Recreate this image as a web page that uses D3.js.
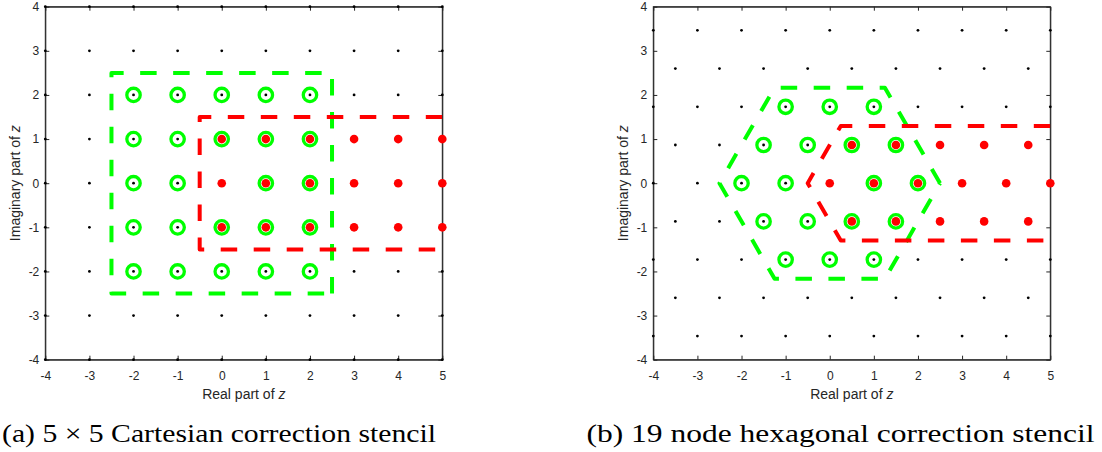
<!DOCTYPE html>
<html>
<head>
<meta charset="utf-8">
<script src="https://cdn.jsdelivr.net/npm/d3@7"></script>
<style>
  body { margin: 0; background: #fff; }
  svg { display: block; }
  .tick text { font-family: "Liberation Sans", Arial, sans-serif; font-size: 12px; fill: #262626; }
  .lbl { font-family: "Liberation Sans", Arial, sans-serif; font-size: 14px; fill: #262626; }
  .cap { font-family: "Liberation Serif", "Times New Roman", serif; font-size: 26px; fill: #000; }
</style>
</head>
<body>
<svg id="fig" width="1102" height="452"></svg>
<script>
// axis ticks (same on both panels)
const xTicks = [-4, -3, -2, -1, 0, 1, 2, 3, 4, 5];
const yTicks = [-4, -3, -2, -1, 0, 1, 2, 3, 4];

// (a) cartesian lattice
const cartX = [-4, -3, -2, -1, 0, 1, 2, 3, 4, 5];
const cartY = [-4, -3, -2, -1, 0, 1, 2, 3, 4];
const cartStencil = [
  [-2, 2], [-1, 2], [0, 2], [1, 2], [2, 2],
  [-2, 1], [-1, 1], [0, 1], [1, 1], [2, 1],
  [-2, 0], [-1, 0], [1, 0], [2, 0],
  [-2, -1], [-1, -1], [0, -1], [1, -1], [2, -1],
  [-2, -2], [-1, -2], [0, -2], [1, -2], [2, -2]
];
const cartTargets = [
  [0, 1], [1, 1], [2, 1], [3, 1], [4, 1], [5, 1],
  [0, 0], [1, 0], [2, 0], [3, 0], [4, 0], [5, 0],
  [0, -1], [1, -1], [2, -1], [3, -1], [4, -1], [5, -1]
];
const cartBox = [[2.5, -2.5], [2.5, 2.5], [-2.5, 2.5], [-2.5, -2.5], [2.5, -2.5]];
const cartRegion = [[5, 1.5], [-0.5, 1.5], [-0.5, -1.5], [5, -1.5]];

// (b) hexagonal lattice
const hexRowY = [-3.464, -2.598, -1.732, -0.866, 0, 0.866, 1.732, 2.598, 3.464];
const hexEvenX = [-4, -3, -2, -1, 0, 1, 2, 3, 4, 5];
const hexOddX = [-3.5, -2.5, -1.5, -0.5, 0.5, 1.5, 2.5, 3.5, 4.5];
const hexStencil = [
  [-1, 1.732], [0, 1.732], [1, 1.732],
  [-1.5, 0.866], [-0.5, 0.866], [0.5, 0.866], [1.5, 0.866],
  [-2, 0], [-1, 0], [1, 0], [2, 0],
  [-1.5, -0.866], [-0.5, -0.866], [0.5, -0.866], [1.5, -0.866],
  [-1, -1.732], [0, -1.732], [1, -1.732]
];
const hexTargets = [
  [0.5, 0.866], [1.5, 0.866], [2.5, 0.866], [3.5, 0.866], [4.5, 0.866],
  [0, 0], [1, 0], [2, 0], [3, 0], [4, 0], [5, 0],
  [0.5, -0.866], [1.5, -0.866], [2.5, -0.866], [3.5, -0.866], [4.5, -0.866]
];
const hexBox = [[2.5, 0], [1.25, 2.165], [-1.25, 2.165], [-2.5, 0], [-1.25, -2.165], [1.25, -2.165], [2.5, 0]];
const hexRegion = [[5, 1.299], [0.25, 1.299], [-0.5, 0], [0.25, -1.299], [5, -1.299]];

const svg = d3.select("#fig");
const green = "#00ff00", red = "#ff0000", ink = "#262626";

const cartGrid = cartY.flatMap(y => cartX.map(x => [x, y]));
const hexGrid = hexRowY.flatMap((y, k) => (k % 2 === 0 ? hexEvenX : hexOddX).map(x => [x, y]));

function panel(id, left, grid, stencil, targets, box, region, caption, capX, capW) {
  const x = d3.scaleLinear().domain([-4, 5]).range([left, left + 397]);
  const y = d3.scaleLinear().domain([-4, 4]).range([359.7, 6.7]);
  const g = svg.append("g");

  g.append("clipPath").attr("id", "clip" + id)
    .append("rect").attr("x", x(-4)).attr("y", y(4))
    .attr("width", x(5) - x(-4)).attr("height", y(-4) - y(4));

  g.append("rect")
    .attr("x", x(-4)).attr("y", y(4))
    .attr("width", x(5) - x(-4)).attr("height", y(-4) - y(4))
    .attr("fill", "none").attr("stroke", ink).attr("stroke-width", 1);

  [[d3.axisBottom(x), y(-4), true], [d3.axisTop(x), y(4), false]].forEach(([ax, ty, labels]) => {
    g.append("g").attr("transform", `translate(0,${ty})`)
      .call(ax.tickValues(xTicks).tickSizeInner(-4).tickSizeOuter(0).tickPadding(12)
        .tickFormat(labels ? d3.format("d") : ""))
      .call(s => s.select(".domain").attr("stroke", ink))
      .call(s => s.selectAll(".tick line").attr("stroke", ink));
  });
  [[d3.axisLeft(y), x(-4), true], [d3.axisRight(y), x(5), false]].forEach(([ax, tx, labels]) => {
    g.append("g").attr("transform", `translate(${tx},0)`)
      .call(ax.tickValues(yTicks).tickSizeInner(-4).tickSizeOuter(0).tickPadding(6)
        .tickFormat(labels ? d3.format("d") : ""))
      .call(s => s.select(".domain").attr("stroke", ink))
      .call(s => s.selectAll(".tick line").attr("stroke", ink));
  });
  g.selectAll(".tick text").text(function () { return this.textContent.replace("\u2212", "-"); });

  // labels
  const xl = g.append("text").attr("class", "lbl").attr("text-anchor", "middle")
    .attr("x", (x(-4) + x(5)) / 2).attr("y", 399);
  xl.append("tspan").text("Real part of ");
  xl.append("tspan").attr("font-style", "italic").text("z");
  const yl = g.append("text").attr("class", "lbl").attr("text-anchor", "middle")
    .attr("transform", `translate(${x(-4) - 25.5},${(y(-4) + y(4)) / 2}) rotate(-90)`);
  yl.append("tspan").text("Imaginary part of ");
  yl.append("tspan").attr("font-style", "italic").text("z");

  const line = d3.line().x(d => x(d[0])).y(d => y(d[1]));

  // lattice nodes
  g.append("g").selectAll("circle").data(grid).join("circle")
    .attr("cx", d => x(d[0])).attr("cy", d => y(d[1])).attr("r", 1.4).attr("fill", "#000");

  // stencil nodes
  g.append("g").selectAll("circle").data(stencil).join("circle")
    .attr("cx", d => x(d[0])).attr("cy", d => y(d[1])).attr("r", 6.7)
    .attr("fill", "none").attr("stroke", green).attr("stroke-width", 3.3);

  // target nodes
  g.append("g").selectAll("circle").data(targets).join("circle")
    .attr("cx", d => x(d[0])).attr("cy", d => y(d[1])).attr("r", 4.3).attr("fill", red);

  // outlines
  g.append("path").attr("d", line(box))
    .attr("fill", "none").attr("stroke", green).attr("stroke-width", 4)
    .attr("stroke-dasharray", "16.5 16.5").attr("stroke-linejoin", "round");
  g.append("path").attr("d", line(region)).attr("clip-path", `url(#clip${id})`)
    .attr("fill", "none").attr("stroke", red).attr("stroke-width", 4)
    .attr("stroke-dasharray", "16.5 16.5").attr("stroke-linejoin", "round");

  svg.append("text").attr("class", "cap").attr("x", capX).attr("y", 442)
    .attr("textLength", capW).attr("lengthAdjust", "spacingAndGlyphs").text(caption);
}

panel("a", 45.3, cartGrid, cartStencil, cartTargets, cartBox, cartRegion,
  "(a) 5 \u00d7 5 Cartesian correction stencil", 2, 434);
panel("b", 653.3, hexGrid, hexStencil, hexTargets, hexBox, hexRegion,
  "(b) 19 node hexagonal correction stencil", 586.5, 508);
</script>
</body>
</html>
